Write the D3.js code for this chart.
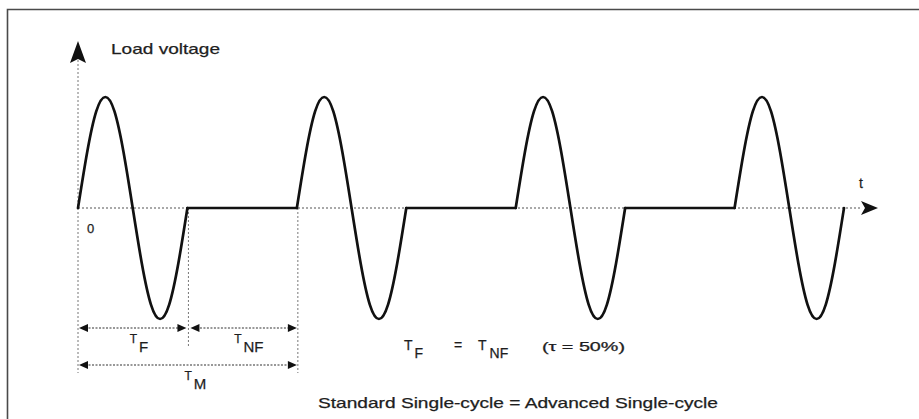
<!DOCTYPE html>
<html><head><meta charset="utf-8">
<script src="https://cdn.jsdelivr.net/npm/d3@7"></script>
<style>body{margin:0;background:#fff}svg{display:block}text{font-family:"Liberation Sans",Arial,sans-serif;fill:#1e1e1e;stroke:#1e1e1e;stroke-width:0.25px}</style>
</head><body>
<script>
// ---- data ----
// on/off state of each mains period (1 = conducting cycle, 0 = suppressed)
const periodStates = [1, 0, 1, 0, 1, 0, 1];
// normalised voltage over one cycle, sampled every 30 degrees
const cycleShape = [0, 0.5, 0.87, 1, 0.87, 0.5, 0, -0.5, -0.87, -1, -0.87, -0.5, 0];
// dimension markers (in periods)
const dims = [
  {from: 0, to: 1, main: "T", sub: "F", row: 0},
  {from: 1, to: 2, main: "T", sub: "NF", row: 0},
  {from: 0, to: 2, main: "T", sub: "M", row: 1}
];
const axisLabelY = "Load voltage";
const axisLabelX = "t";
const originLabel = "0";
const noteText = "(\u03c4 = 50%)";
const captionText = "Standard Single-cycle = Advanced Single-cycle";

// ---- build ----
const W = 919, H = 419;
const svg = d3.select("body").append("svg").attr("width", W).attr("height", H);

const x = d3.scaleLinear().domain([0, periodStates.length]).range([78, 844]);
const y = d3.scaleLinear().domain([-1, 1]).range([319, 97]);

// frame (top and left edges visible)
svg.append("path").attr("d", `M7.5,${H} V9.5 H${W}`)
  .attr("fill", "none").attr("stroke", "#4a4a4a").attr("stroke-width", 1.6);

// axes
const y0 = y(0);
svg.append("line").attr("x1", x(0)).attr("x2", 862).attr("y1", y0).attr("y2", y0)
  .attr("stroke", "#555").attr("stroke-width", 1.1).attr("stroke-dasharray", "2,2");
svg.append("path").attr("d", `M878,${y0} L861,${y0-7} L865,${y0} L861,${y0+7} Z`).attr("fill", "#111");
svg.append("line").attr("x1", x(0)).attr("x2", x(0)).attr("y1", 60).attr("y2", 373)
  .attr("stroke", "#777").attr("stroke-width", 1).attr("stroke-dasharray", "2,2");
svg.append("path").attr("d", `M${x(0)},41 L${x(0)-8},63 L${x(0)},59 L${x(0)+8},63 Z`).attr("fill", "#111");

// vertical guide lines
svg.append("line").attr("x1", x(1)+1).attr("x2", x(1)+1).attr("y1", y0).attr("y2", 347)
  .attr("stroke", "#777").attr("stroke-width", 1).attr("stroke-dasharray", "2,2");
svg.append("line").attr("x1", x(2)+1).attr("x2", x(2)+1).attr("y1", y0).attr("y2", 373)
  .attr("stroke", "#777").attr("stroke-width", 1).attr("stroke-dasharray", "2,2");

// waveform: one path per period
const curveLine = d3.line().x(d => x(d[0])).y(d => y(d[1])).curve(d3.curveNatural);
const flatLine = d3.line().x(d => x(d[0])).y(d => y(d[1]));
const wave = svg.append("g").attr("fill", "none").attr("stroke", "#111").attr("stroke-width", 2.7)
  .attr("stroke-linejoin", "round").attr("stroke-linecap", "round");
periodStates.forEach((s, i) => {
  if (s) {
    const pts = cycleShape.map((v, k) => [i + k / (cycleShape.length - 1), v]);
    wave.append("path").datum(pts).attr("d", curveLine);
  } else {
    wave.append("path").datum([[i, 0], [i + 1, 0]]).attr("d", flatLine);
  }
});

// dimension arrows
const rowY = [328, 365];
dims.forEach(d => {
  const x1 = x(d.from) + (d.from === 0 ? 1 : 3), x2 = x(d.to) - (d.to === 1 ? 1 : 0), yy = rowY[d.row];
  svg.append("line").attr("x1", x1 + 6).attr("x2", x2 - 6).attr("y1", yy).attr("y2", yy)
    .attr("stroke", "#333").attr("stroke-width", 1.2).attr("stroke-dasharray", "2,1.5");
  svg.append("path").attr("d", `M${x1},${yy} L${x1+9},${yy-4} L${x1+9},${yy+4} Z`).attr("fill", "#111");
  svg.append("path").attr("d", `M${x2},${yy} L${x2-9},${yy-4} L${x2-9},${yy+4} Z`).attr("fill", "#111");
  const cx = (x(d.from) + x(d.to)) / 2;
  const t = svg.append("text").attr("x", cx - (d.sub.length * 5) + 2).attr("y", yy + 15);
  t.append("tspan").attr("font-size", 12).text(d.main);
  t.append("tspan").attr("font-size", 15).attr("dy", 9).attr("dx", 2).text(d.sub);
});

// labels
svg.append("text").attr("x", 111).attr("y", 54).attr("font-size", 15)
  .attr("textLength", 109).attr("lengthAdjust", "spacingAndGlyphs").text(axisLabelY);
svg.append("text").attr("x", 859).attr("y", 188).attr("font-size", 14).text(axisLabelX);
svg.append("text").attr("x", 87).attr("y", 233).attr("font-size", 13).text(originLabel);

// equation T_F = T_NF (tau = 50%)
const eq = svg.append("text").attr("x", 404).attr("y", 350).attr("font-size", 14);
eq.append("tspan").text("T");
eq.append("tspan").attr("dy", 8).attr("dx", 2).text("F");
eq.append("tspan").attr("dy", -8).attr("x", 454).text("=");
eq.append("tspan").attr("x", 478).text("T");
eq.append("tspan").attr("dy", 8).attr("dx", 3).text("NF");
svg.append("text").attr("x", 542).attr("y", 351).attr("font-size", 12)
  .attr("textLength", 83).attr("lengthAdjust", "spacingAndGlyphs").text(noteText);

svg.append("text").attr("x", 318).attr("y", 408).attr("font-size", 14.5)
  .attr("textLength", 400).attr("lengthAdjust", "spacingAndGlyphs").text(captionText);
</script>
</body></html>
